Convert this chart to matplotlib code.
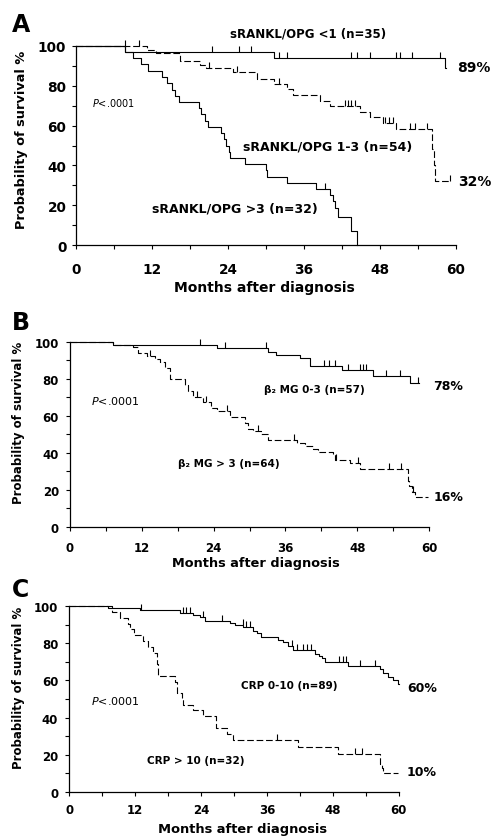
import numpy as np
import matplotlib
matplotlib.use("Agg")
import matplotlib.pyplot as plt
from matplotlib.ticker import MultipleLocator

# ---- panel A: sRANKL/OPG ----
a_low_t = [0, 7.7, 31.3, 58.3]
a_low_s = [100, 97.1, 94.1, 89.0]
a_low_end = 58.5
a_low_cens = [21.5, 25.7, 27.6, 32.1, 33.3, 43.4, 44.3, 46.4, 50.6, 51.2, 53.1, 57.5]

a_mid_t = [0, 11.2, 12.7, 16.4, 19.6, 20.6, 24.8, 28.5, 31.2, 33.3, 34.3, 38.5,
           40.1, 44.8, 46.4, 48.5, 50.6, 56.2, 56.5, 56.7]
a_mid_s = [100, 98.1, 96.3, 92.4, 90.5, 88.7, 86.8, 83.5, 80.7, 78.4, 75.3, 72.5,
           69.6, 66.6, 64.1, 61.4, 58.1, 48.0, 40.0, 32.0]
a_mid_end = 59.1
a_mid_cens = [7.8, 10.0, 21.0, 25.5, 32.0, 42.4, 43.0, 43.5, 44.0, 48.8, 49.5,
              50.0, 52.8, 53.5, 55.5, 59.1]

a_high_t = [0, 7.7, 9.0, 10.3, 11.4, 13.5, 14.3, 15.1, 15.6, 16.3, 19.5, 19.8,
            20.3, 20.9, 22.9, 23.4, 23.7, 24.1, 24.3, 26.7, 30.0, 30.2, 33.3,
            37.9, 40.1, 40.6, 40.9, 41.4, 43.5, 44.4]
a_high_s = [100, 97, 94, 91, 87.5, 84.4, 81.2, 78.1, 75, 71.9, 68.8, 65.6, 62.5,
            59.4, 56.2, 53.1, 50, 46.9, 43.8, 40.6, 37.5, 34.4, 31.2, 28.1, 25,
            21.9, 18.8, 14, 7, 0]
a_high_end = 44.4
a_high_cens = [39.3]

# ---- panel B: beta2 microglobulin ----
b_low_t = [0, 7.2, 24.5, 33.1, 34.5, 38.4, 40.1, 45.4, 50.6, 56.8]
b_low_s = [100, 98.2, 96.5, 94.7, 93.0, 91.2, 87.0, 84.9, 81.5, 77.8]
b_low_end = 58.3
b_low_cens = [21.7, 25.9, 32.8, 42.5, 43.3, 44.3, 46.4, 48.5, 49.0, 49.5, 52.8,
              55.2, 58.2]

b_high_t = [0, 7.2, 10.6, 11.4, 12.8, 14.2, 15.0, 15.9, 16.7, 19.2, 19.8, 20.6,
            22.3, 23.5, 24.5, 26.7, 29.2, 29.8, 30.6, 32.0, 33.1, 37.9, 39.2,
            40.6, 41.5, 44.0, 44.3, 46.8, 48.4, 56.5, 56.7, 57.1, 57.6, 57.9]
b_high_s = [100, 98.4, 96.9, 93.8, 92.2, 90.6, 89.1, 85.9, 79.7, 76.6, 73.4,
            70.3, 67.2, 64.1, 62.5, 59.4, 56.2, 53.1, 51.6, 50.0, 46.9, 45.3,
            43.8, 42.2, 40.6, 39.1, 35.9, 34.4, 31.3, 25.0, 21.9, 18.8, 17.2, 16.0]
b_high_end = 59.8
b_high_cens = [13.4, 21.2, 22.8, 26.2, 31.5, 37.5, 44.5, 48.2, 53.3, 55.3, 57.3]

# ---- panel C: CRP ----
c_low_t = [0, 7.1, 12.9, 20.2, 22.6, 23.8, 24.7, 29.3, 30.2, 31.7, 33.5, 34.1,
           35.0, 38.1, 39.0, 39.9, 40.8, 44.8, 45.4, 46.0, 46.6, 50.8, 56.6,
           57.2, 58.1, 59.0, 59.9]
c_low_s = [100, 99.0, 97.8, 96.6, 95.5, 94.4, 92.0, 91.0, 89.9, 88.8, 86.5,
           85.4, 83.5, 82.0, 80.9, 78.7, 76.2, 74.2, 73.0, 71.9, 69.7, 68.0,
           66.0, 64.0, 62.0, 60.0, 58.0]
c_low_end = 60.0
c_low_cens = [13.0, 20.7, 21.3, 22.0, 24.3, 27.8, 31.6, 32.2, 33.0, 40.5, 41.5,
              42.5, 43.3, 44.1, 49.2, 49.8, 50.4, 52.9, 55.6]

c_high_t = [0, 7.7, 9.2, 10.7, 11.0, 11.7, 13.5, 14.4, 15.3, 15.9, 16.2, 19.3,
            19.6, 20.5, 20.8, 22.6, 24.4, 26.8, 28.7, 29.9, 41.7, 49.0, 56.6,
            56.9, 57.2]
c_high_s = [100, 96.9, 93.8, 90.6, 87.5, 84.4, 81.2, 78.1, 75.0, 68.8, 62.5,
            59.4, 53.1, 50.0, 46.9, 43.8, 40.6, 34.4, 31.2, 28.1, 24.0, 20.3,
            15.0, 13.0, 10.0]
c_high_end = 59.9
c_high_cens = [37.9, 52.0, 53.3]

W, H = 495, 837
fig = plt.figure(figsize=(W / 100, H / 100), dpi=100)


def px_axes(l, t, r, b):
    return fig.add_axes([l / W, 1 - b / H, (r - l) / W, (b - t) / H])


def km(ax, t, s, end, cens, dashed):
    tt = list(t) + [end]
    ss = list(s) + [s[-1]]
    ls = (0, (6, 2.5)) if dashed else '-'
    ax.step(tt, ss, where='post', color='black', lw=0.8, ls=ls, clip_on=False)
    idx = np.searchsorted(t, cens, side='right') - 1
    lev = np.array(s)[idx]
    ax.plot(cens, lev, ls='none', marker=2, ms=4, mew=0.8, color='black',
            clip_on=False)


def style(ax, fs, xpad, ypad):
    ax.set_xlim(0, 60)
    ax.set_ylim(0, 100)
    for sp in ['top', 'right']:
        ax.spines[sp].set_visible(False)
    for sp in ['left', 'bottom']:
        ax.spines[sp].set_linewidth(0.9)
    ax.xaxis.set_major_locator(MultipleLocator(12))
    ax.xaxis.set_minor_locator(MultipleLocator(6))
    ax.yaxis.set_major_locator(MultipleLocator(20))
    ax.yaxis.set_minor_locator(MultipleLocator(10))
    ax.tick_params(which='both', direction='out', width=0.8, length=3)
    ax.tick_params(axis='x', which='major', labelsize=fs, pad=xpad)
    ax.tick_params(axis='y', which='major', labelsize=fs, pad=ypad)
    for lab in ax.get_xticklabels() + ax.get_yticklabels():
        lab.set_fontweight('bold')


# panel A
axA = px_axes(76, 47, 456, 246)
km(axA, a_low_t, a_low_s, a_low_end, a_low_cens, False)
km(axA, a_mid_t, a_mid_s, a_mid_end, a_mid_cens, True)
km(axA, a_high_t, a_high_s, a_high_end, a_high_cens, False)
style(axA, 9.8, 9, 4)
axA.text(36.6, 106.5, 'sRANKL/OPG <1 (n=35)', ha='center', va='center',
         fontsize=8.5, fontweight='bold', clip_on=False)
axA.text(39.7, 49.9, 'sRANKL/OPG 1-3 (n=54)', ha='center', va='center',
         fontsize=9, fontweight='bold')
axA.text(25.1, 18.4, 'sRANKL/OPG >3 (n=32)', ha='center', va='center',
         fontsize=9, fontweight='bold')
axA.text(2.5, 71.7, r'$P$<.0001', ha='left', va='center', fontsize=7)
axA.text(60.2, 89.3, '89%', ha='left', va='center', fontsize=10,
         fontweight='bold', clip_on=False)
axA.text(60.4, 32.3, '32%', ha='left', va='center', fontsize=10,
         fontweight='bold', clip_on=False)

# panel B
axB = px_axes(70, 342.7, 429, 528)
km(axB, b_low_t, b_low_s, b_low_end, b_low_cens, False)
km(axB, b_high_t, b_high_s, b_high_end, b_high_cens, True)
style(axB, 8.5, 7, 5)
axB.text(40.8, 74.5, 'β₂ MG 0-3 (n=57)', ha='center', va='center',
         fontsize=7.5, fontweight='bold')
axB.text(26.5, 34.4, 'β₂ MG > 3 (n=64)', ha='center', va='center',
         fontsize=7.5, fontweight='bold')
axB.text(3.5, 68.7, r'$P$<.0001', ha='left', va='center', fontsize=8)
axB.text(60.7, 76.6, '78%', ha='left', va='center', fontsize=9,
         fontweight='bold', clip_on=False)
axB.text(60.7, 16.6, '16%', ha='left', va='center', fontsize=9,
         fontweight='bold', clip_on=False)

# panel C
axC = px_axes(69.3, 607.3, 398.7, 792.7)
km(axC, c_low_t, c_low_s, c_low_end, c_low_cens, False)
km(axC, c_high_t, c_high_s, c_high_end, c_high_cens, True)
style(axC, 8.5, 5, 5)
axC.text(40.1, 57.7, 'CRP 0-10 (n=89)', ha='center', va='center',
         fontsize=7.5, fontweight='bold')
axC.text(23.0, 17.1, 'CRP > 10 (n=32)', ha='center', va='center',
         fontsize=7.5, fontweight='bold')
axC.text(3.9, 49.6, r'$P$<.0001', ha='left', va='center', fontsize=8)
axC.text(61.5, 56.3, '60%', ha='left', va='center', fontsize=9,
         fontweight='bold', clip_on=False)
axC.text(61.5, 11.0, '10%', ha='left', va='center', fontsize=9,
         fontweight='bold', clip_on=False)

# shared labels placed in figure pixels
def ftext(x, y, s, **kw):
    fig.text(x / W, 1 - y / H, s, **kw)

ftext(264, 288, 'Months after diagnosis', ha='center', va='center',
      fontsize=10, fontweight='bold')
ftext(256, 564, 'Months after diagnosis', ha='center', va='center',
      fontsize=9.3, fontweight='bold')
ftext(242, 830, 'Months after diagnosis', ha='center', va='center',
      fontsize=9.4, fontweight='bold')
ftext(22, 140, 'Probability of survival %', ha='center', va='center',
      rotation=90, fontsize=9.3, fontweight='bold')
ftext(19, 423, 'Probability of survival %', ha='center', va='center',
      rotation=90, fontsize=8.5, fontweight='bold')
ftext(19, 688, 'Probability of survival %', ha='center', va='center',
      rotation=90, fontsize=8.5, fontweight='bold')
ftext(12, 32, 'A', ha='left', va='baseline', fontsize=17, fontweight='bold')
ftext(12, 330, 'B', ha='left', va='baseline', fontsize=17, fontweight='bold')
ftext(12, 597, 'C', ha='left', va='baseline', fontsize=17, fontweight='bold')

fig.savefig('out.png', dpi=100)
